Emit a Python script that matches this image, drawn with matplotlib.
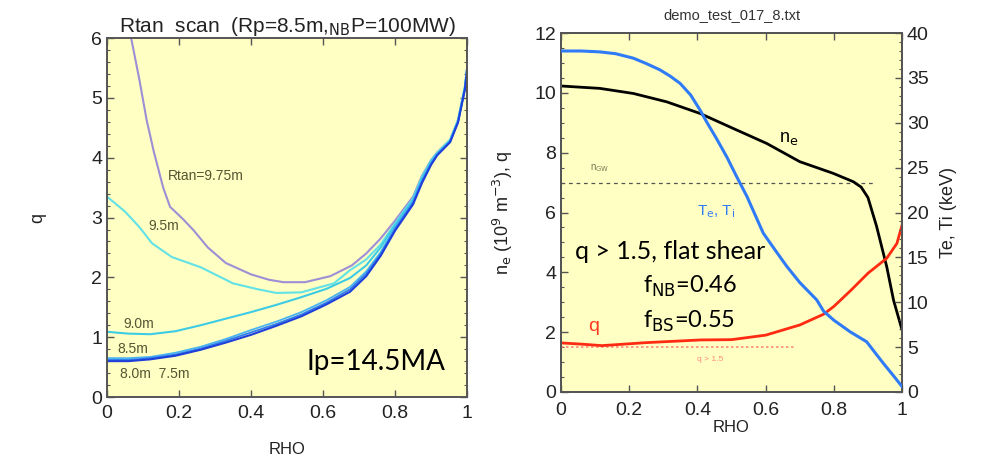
import matplotlib
matplotlib.use("Agg")
import matplotlib.pyplot as plt
from matplotlib.ticker import MultipleLocator

# ---------------- data: left panel (q profiles, Rtan scan) ----------------
rho_975 = [0.067, 0.09, 0.11, 0.13, 0.156, 0.175, 0.21, 0.24, 0.28, 0.33, 0.40, 0.45, 0.49, 0.55,
           0.62, 0.68, 0.72, 0.76, 0.80, 0.85, 0.875, 0.90, 0.917, 0.953, 0.975, 0.994, 1.0]
q_975 = [6.0, 5.3, 4.63, 4.1, 3.5, 3.18, 2.98, 2.79, 2.5, 2.24, 2.05, 1.96, 1.92, 1.92,
         2.02, 2.2, 2.4, 2.65, 2.95, 3.35, 3.7, 3.96, 4.09, 4.3, 4.63, 5.18, 5.5]

rho_95 = [0.0, 0.05, 0.09, 0.125, 0.18, 0.26, 0.35, 0.42, 0.47, 0.54, 0.63, 0.675, 0.72, 0.76,
          0.80, 0.85, 0.875, 0.90, 0.917, 0.953, 0.975, 0.994, 1.0]
q_95 = [3.35, 3.1, 2.84, 2.57, 2.34, 2.17, 1.9, 1.8, 1.74, 1.75, 1.9, 2.12, 2.3, 2.55,
        2.9, 3.32, 3.68, 3.95, 4.08, 4.3, 4.63, 5.18, 5.5]

rho_90 = [0.0, 0.06, 0.12, 0.19, 0.26, 0.33, 0.40, 0.47, 0.54, 0.61, 0.675, 0.72, 0.76, 0.80,
          0.85, 0.875, 0.90, 0.917, 0.953, 0.975, 0.994, 1.0]
q_90 = [1.09, 1.06, 1.05, 1.1, 1.2, 1.31, 1.42, 1.54, 1.67, 1.81, 1.99, 2.2, 2.5, 2.88,
        3.3, 3.66, 3.94, 4.07, 4.29, 4.62, 5.17, 5.48]

rho_low = [0.0, 0.06, 0.12, 0.19, 0.26, 0.33, 0.40, 0.47, 0.54, 0.61, 0.675, 0.72, 0.76, 0.80,
           0.85, 0.875, 0.90, 0.917, 0.953, 0.975, 0.994, 1.0]
q_85 = [0.65, 0.65, 0.67, 0.74, 0.84, 0.97, 1.12, 1.26, 1.42, 1.62, 1.84, 2.1, 2.42, 2.84,
        3.27, 3.63, 3.92, 4.06, 4.28, 4.61, 5.16, 5.47]
q_80 = [0.62, 0.62, 0.65, 0.71, 0.81, 0.94, 1.08, 1.22, 1.38, 1.58, 1.80, 2.06, 2.39, 2.81,
        3.25, 3.61, 3.9, 4.05, 4.27, 4.6, 5.15, 5.46]
q_75 = [0.60, 0.60, 0.63, 0.69, 0.79, 0.91, 1.04, 1.19, 1.35, 1.55, 1.76, 2.02, 2.36, 2.78,
        3.22, 3.58, 3.88, 4.04, 4.26, 4.59, 5.14, 5.45]

# ---------------- data: right panel (profiles) ----------------
rho_T = [0.0, 0.06, 0.114, 0.16, 0.212, 0.25, 0.29, 0.32, 0.349, 0.38, 0.408, 0.427, 0.455,
         0.486, 0.515, 0.545, 0.593, 0.63, 0.662, 0.70, 0.75, 0.77, 0.80, 0.848, 0.896,
         0.945, 0.975, 1.0]
T_keV = [38.0, 38.0, 37.9, 37.7, 37.2, 36.6, 35.9, 35.2, 34.4, 33.1, 31.4, 30.1, 28.3,
         26.2, 24.0, 21.8, 17.7, 15.7, 14.0, 12.2, 10.25, 9.0, 8.0, 6.7, 5.6,
         3.2, 1.8, 0.6]

rho_ne = [0.0, 0.114, 0.212, 0.31, 0.408, 0.505, 0.603, 0.70, 0.798, 0.857, 0.88, 0.90,
          0.925, 0.955, 0.975, 1.0]
ne = [10.23, 10.15, 9.98, 9.70, 9.31, 8.81, 8.31, 7.70, 7.31, 7.03, 6.85, 6.5,
      5.55, 4.19, 3.07, 2.07]

rho_q = [0.0, 0.06, 0.12, 0.25, 0.41, 0.5, 0.6, 0.7, 0.77, 0.8, 0.85, 0.9, 0.955, 0.985, 1.0]
q_prof = [1.64, 1.6, 1.55, 1.65, 1.74, 1.75, 1.9, 2.24, 2.6, 2.86, 3.4, 3.97, 4.47, 4.97, 5.58]

n_gw = 7.0
q_min_target = 1.5

xticks = [0, 0.2, 0.4, 0.6, 0.8, 1]
xtick_labels = ["0", "0.2", "0.4", "0.6", "0.8", "1"]

# ---------------- figure ----------------
BG = "#FFFFC3"
SPINE = "#555555"
TICKFONT = "Liberation Sans"
ANNFONT = "Lato"

fig = plt.figure(figsize=(9.82, 4.59), dpi=100)
fig.patch.set_facecolor("white")

def style_axes(ax):
    ax.set_facecolor(BG)
    for s in ax.spines.values():
        s.set_color(SPINE)
        s.set_linewidth(1.4)
    ax.tick_params(which="both", direction="in", colors=SPINE, labelcolor="#222222")
    ax.tick_params(which="major", length=5, width=1.0, labelsize=14)
    ax.tick_params(which="minor", length=2.5, width=0.8)
    for lab in ax.get_xticklabels() + ax.get_yticklabels():
        lab.set_fontfamily(TICKFONT)

# ---- left panel ----
ax1 = fig.add_axes([0.109, 0.135, 0.3666, 0.782])
ax1.set_xlim(0, 1)
ax1.set_ylim(0, 6)
ax1.plot(rho_975, q_975, color="#9C8FD6", lw=1.5)
ax1.plot(rho_95, q_95, color="#62E2E6", lw=1.5)
ax1.plot(rho_90, q_90, color="#3ECBE4", lw=1.5)
ax1.plot(rho_low, q_85, color="#48B4F0", lw=1.3)
ax1.plot(rho_low, q_80, color="#2E7CEE", lw=1.3)
ax1.plot(rho_low, q_75, color="#1E3FDA", lw=1.5)
ax1.set_xticks(xticks)
ax1.set_xticklabels(xtick_labels)
ax1.set_yticks(range(0, 7))
ax1.yaxis.set_minor_locator(MultipleLocator(0.2))
ax1.tick_params(top=True, right=True, which="both")
style_axes(ax1)
ax1.tick_params(axis="x", pad=6)
ax1.set_ylabel("q", fontsize=13, family=TICKFONT, color="#222222", labelpad=32)
ax1.set_xlabel("RHO", fontsize=12, family=TICKFONT, color="#222222", labelpad=14)
ax1.set_title(r"Rtan  scan  (Rp=8.5m,$_{\rm NB}$P=100MW)", fontsize=15,
              family=TICKFONT, color="#222222", pad=3)

lab_kw = dict(fontsize=10, color="#555533", family=TICKFONT)
ax1.text(0.17, 3.62, "Rtan=9.75m", **lab_kw)
ax1.text(0.115, 2.8, "9.5m", **lab_kw)
ax1.text(0.045, 1.15, "9.0m", **lab_kw)
ax1.text(0.03, 0.73, "8.5m", **lab_kw)
ax1.text(0.035, 0.31, "8.0m  7.5m", **lab_kw)
ax1.text(0.553, 0.45, "Ip=14.5MA", fontsize=20, family=ANNFONT, color="black")

# ---- right panel ----
ax2 = fig.add_axes([0.5713, 0.146, 0.3473, 0.782])
ax2.set_xlim(0, 1)
ax2.set_ylim(0, 12)
ax3 = ax2.twinx()
ax3.set_ylim(0, 40)

ax2.axhline(n_gw, xmin=0.0, xmax=0.925, color="#555555", lw=0.9, ls=(0, (3, 3)))
ax2.plot([0, 0.69], [q_min_target, q_min_target], color="#FF8A80", lw=1.2, ls=(0, (1.5, 1.5)))
ax2.plot(rho_ne, ne, color="black", lw=2.0, zorder=3)
ax2.plot(rho_q, q_prof, color="#FF2A12", lw=2.0, zorder=3)
ax3.plot(rho_T, T_keV, color="#2F7BF7", lw=2.2, zorder=3)

ax2.set_xticks(xticks)
ax2.set_xticklabels(xtick_labels)
ax2.set_yticks(range(0, 13, 2))
ax2.yaxis.set_minor_locator(MultipleLocator(0.5))
ax2.tick_params(top=True, which="both")
ax2.tick_params(axis="y", which="both", right=False)
style_axes(ax2)
ax3.set_yticks(range(0, 41, 5))
ax3.yaxis.set_minor_locator(MultipleLocator(1))
style_axes(ax3)
ax3.set_facecolor("none")
ax2.tick_params(axis="x", pad=7)
ax2.set_xlabel("RHO", fontsize=12, family=TICKFONT, color="#222222", labelpad=1)
ax2.set_ylabel(r"n$_{\rm e}$ (10$^{9}$ m$^{-3}$), q", fontsize=13, family=TICKFONT,
               color="#222222", labelpad=14)
ax3.set_ylabel("Te, Ti (keV)", fontsize=13, family=TICKFONT, color="#222222", labelpad=8)
ax2.set_title("demo_test_017_8.txt", fontsize=10.5, family=TICKFONT, color="#333333", pad=10)

ax2.text(0.085, 7.4, r"n$_{\rm GW}$", fontsize=7, color="#777755", family=TICKFONT)
ax2.text(0.64, 8.35, r"n$_{\rm e}$", fontsize=13, color="black", family=TICKFONT)
ax2.text(0.40, 5.9, r"T$_{\rm e}$, T$_{\rm i}$", fontsize=11, color="#2F7BF7", family=TICKFONT)
ax2.text(0.08, 2.05, "q", fontsize=14, color="#FF3A22", family=TICKFONT)
ax2.text(0.40, 1.05, "q > 1.5", fontsize=6, color="#FF8A80", family=TICKFONT)
ax2.text(0.04, 4.45, "q > 1.5, flat shear", fontsize=18, family=ANNFONT, color="black")
ax2.text(0.24, 3.3, r"f$_{\rm NB}$=0.46", fontsize=17, family=ANNFONT, color="black")
ax2.text(0.24, 2.15, r"f$_{\rm BS}$=0.55", fontsize=17, family=ANNFONT, color="black")

for a in (ax2, ax3):
    for lab in a.get_xticklabels() + a.get_yticklabels():
        lab.set_fontfamily(TICKFONT)

fig.savefig("out.png", dpi=100, facecolor="white")
